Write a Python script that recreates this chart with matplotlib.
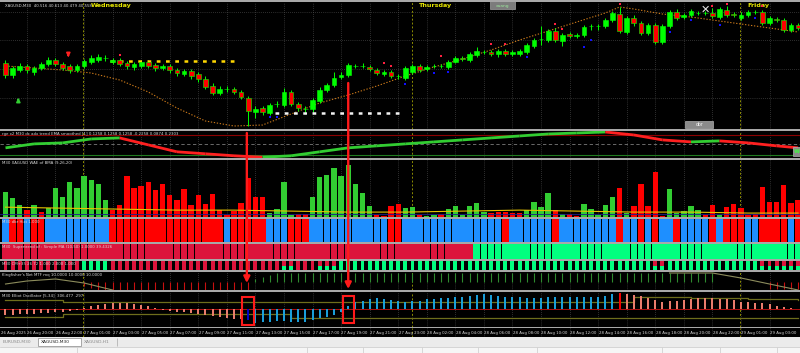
import matplotlib
matplotlib.use("Agg")
import matplotlib.pyplot as plt
from matplotlib import font_manager
from matplotlib.collections import LineCollection
from matplotlib.patches import Rectangle, ConnectionPatch
import numpy as np

# ---------------- data ----------------
# XAGUSD M30 candles (price)
opens = [38.85, 38.73, 38.78, 38.82, 38.76, 38.80, 38.84, 38.88, 38.84, 38.82,
         38.78, 38.82, 38.86, 38.88, 38.90, 38.86, 38.88, 38.85, 38.81, 38.82,
         38.86, 38.83, 38.80, 38.82, 38.78, 38.74, 38.77, 38.74, 38.69, 38.62,
         38.55, 38.59, 38.59, 38.56, 38.50, 38.36, 38.40, 38.35, 38.44, 38.43,
         38.56, 38.44, 38.39, 38.39, 38.47, 38.58, 38.63, 38.71, 38.73, 38.82,
         38.82, 38.81, 38.78, 38.74, 38.76, 38.72, 38.70, 38.76, 38.82, 38.79,
         38.82, 38.82, 38.81, 38.86, 38.90, 38.88, 38.93, 38.96, 38.96, 38.94,
         38.97, 38.94, 38.94, 38.96, 39.02, 39.09, 39.08, 39.17, 39.07, 39.14,
         39.12, 39.13, 39.22, 39.22, 39.22, 39.28, 39.34, 39.16, 39.30, 39.25,
         39.15, 39.23, 39.06, 39.22, 39.36, 39.31, 39.33, 39.35, 39.35, 39.35,
         39.31, 39.38, 39.34, 39.30, 39.33, 39.36, 39.36, 39.25, 39.29, 39.28,
         39.18, 39.23]
closes = [38.73, 38.80, 38.82, 38.78, 38.80, 38.84, 38.88, 38.84, 38.80, 38.78,
          38.82, 38.87, 38.90, 38.91, 38.90, 38.88, 38.84, 38.82, 38.84, 38.86,
          38.82, 38.80, 38.82, 38.78, 38.75, 38.77, 38.72, 38.69, 38.61, 38.55,
          38.59, 38.59, 38.56, 38.51, 38.37, 38.39, 38.36, 38.43, 38.44, 38.56,
          38.44, 38.40, 38.39, 38.48, 38.58, 38.63, 38.70, 38.73, 38.83, 38.82,
          38.82, 38.79, 38.75, 38.76, 38.72, 38.72, 38.80, 38.82, 38.78, 38.81,
          38.82, 38.82, 38.86, 38.90, 38.89, 38.94, 38.97, 38.96, 38.94, 38.97,
          38.94, 38.96, 38.97, 39.03, 39.08, 39.09, 39.17, 39.08, 39.13, 39.12,
          39.13, 39.21, 39.22, 39.22, 39.28, 39.35, 39.17, 39.30, 39.25, 39.15,
          39.23, 39.06, 39.22, 39.36, 39.30, 39.33, 39.37, 39.35, 39.35, 39.32,
          39.39, 39.33, 39.33, 39.33, 39.36, 39.36, 39.25, 39.30, 39.28, 39.18,
          39.23, 39.20]
highs = [38.88, 38.82, 38.85, 38.84, 38.82, 38.86, 38.91, 38.90, 38.86, 38.84,
         38.84, 38.89, 38.93, 38.94, 38.93, 38.90, 38.90, 38.87, 38.86, 38.88,
         38.88, 38.85, 38.84, 38.84, 38.80, 38.79, 38.79, 38.76, 38.72, 38.65,
         38.62, 38.62, 38.61, 38.58, 38.52, 38.42, 38.42, 38.45, 38.47, 38.60,
         38.58, 38.46, 38.42, 38.50, 38.61, 38.65, 38.76, 38.76, 38.85, 38.84,
         38.85, 38.83, 38.80, 38.78, 38.78, 38.74, 38.82, 38.84, 38.84, 38.83,
         38.84, 38.84, 38.88, 38.92, 38.92, 38.96, 39.01, 38.98, 38.98, 38.99,
         38.99, 38.98, 38.99, 39.05, 39.10, 39.22, 39.19, 39.20, 39.15, 39.16,
         39.15, 39.23, 39.24, 39.24, 39.30, 39.37, 39.41, 39.32, 39.33, 39.27,
         39.25, 39.25, 39.24, 39.38, 39.39, 39.35, 39.39, 39.37, 39.37, 39.40,
         39.41, 39.42, 39.36, 39.36, 39.38, 39.38, 39.38, 39.32, 39.31, 39.30,
         39.25, 39.25]
lows = [38.70, 38.70, 38.76, 38.75, 38.73, 38.78, 38.82, 38.82, 38.78, 38.75,
        38.76, 38.80, 38.84, 38.86, 38.87, 38.84, 38.82, 38.79, 38.78, 38.80,
        38.80, 38.77, 38.78, 38.75, 38.72, 38.72, 38.69, 38.66, 38.59, 38.53,
        38.53, 38.56, 38.54, 38.49, 38.22, 38.30, 38.33, 38.33, 38.41, 38.41,
        38.42, 38.37, 38.34, 38.36, 38.45, 38.56, 38.61, 38.69, 38.71, 38.80,
        38.80, 38.77, 38.73, 38.72, 38.70, 38.69, 38.68, 38.74, 38.76, 38.77,
        38.80, 38.80, 38.79, 38.85, 38.87, 38.86, 38.91, 38.94, 38.92, 38.91,
        38.92, 38.92, 38.92, 38.94, 39.00, 39.03, 39.06, 39.06, 39.02, 39.10,
        39.10, 39.11, 39.18, 39.18, 39.20, 39.26, 39.15, 39.14, 39.22, 39.13,
        39.13, 39.04, 39.04, 39.20, 39.28, 39.29, 39.31, 39.33, 39.33, 39.30,
        39.29, 39.31, 39.31, 39.28, 39.31, 39.34, 39.23, 39.23, 39.26, 39.16,
        39.16, 39.18]

# moving average (dotted) sampled at these bars
ma_bars = [0, 4, 8, 12, 16, 20, 24, 28, 32, 36, 40, 44, 48, 52, 56, 60, 64, 68,
           72, 76, 80, 84, 86, 88, 92, 96, 100, 104, 108, 111]
ma_vals = [38.82, 38.80, 38.78, 38.75, 38.68, 38.56, 38.40, 38.27, 38.22, 38.23,
           38.34, 38.45, 38.53, 38.62, 38.72, 38.81, 38.89, 38.98, 39.08, 39.17,
           39.26, 39.35, 39.41, 39.39, 39.34, 39.31, 39.27, 39.23, 39.19, 39.16]

red_dot_bars = [16, 53, 54, 61, 68, 70, 77, 78, 86, 99, 101, 106]
red_dot_vals = [38.93, 38.85, 38.82, 38.92, 39.04, 39.04, 39.24, 39.19, 39.44, 39.42, 39.44, 39.42]
blue_dot_bars = [37, 38, 56, 60, 62, 73, 81, 82, 93, 96, 100, 105]
blue_dot_vals = [38.31, 38.31, 38.64, 38.75, 38.76, 38.91, 39.01, 39.08, 39.16, 39.28, 39.23, 39.30]

yellow_level, yellow_span = 38.87, (14.6, 32.1)
white_level, white_span = 38.35, (37.7, 55.3)
price_grid = [39.36, 39.08, 38.79, 38.50]

# trend EMA smoothed sub-window
trend_bars = [0, 4, 8, 12, 16, 20, 24, 28, 32, 36, 40, 44, 48, 52, 56, 60, 64, 68,
              72, 76, 80, 84, 88, 92, 96, 100, 104, 108, 111]
trend_vals = [-0.04, 0.04, 0.06, 0.14, 0.16, 0.02, -0.12, -0.16, -0.20, -0.23,
              -0.20, -0.12, -0.04, 0.00, 0.04, 0.08, 0.12, 0.16, 0.20, 0.24,
              0.26, 0.28, 0.22, 0.12, 0.08, 0.10, 0.06, 0.00, -0.04]

# WAE histogram
wae = [25, 19, 12, 7, 12, 5, 9, 30, 20, 36, 30, 42, 38, 34, 17, 7, 12, 42, 30, 32,
       36, 27, 34, 22, 17, 29, 12, 22, 13, 23, 7, 2, 6, 14, 40, 20, 20, 4, 8, 36,
       2, 3, 3, 20, 41, 43, 50, 42, 53, 34, 24, 11, 2, 1, 11, 13, 9, 10, 2, 1,
       2, 3, 8, 11, 2, 11, 14, 5, 4, 5, 5, 4, 4, 7, 15, 10, 24, 7, 3, 3,
       1, 13, 8, 2, 12, 20, 30, 4, 11, 34, 11, 46, 1, 28, 4, 6, 11, 7, 2, 12,
       2, 10, 13, 9, 2, 3, 31, 15, 15, 33, 14, 17]
wae_dir = ("gggrgrggggggggg" "rrrrrrrrrrrrrrrrrrrrrr" "gggg" "rr" "ggggggggg" "rrrr"
           "gg" "r" "gg" "r" "gggggg" "rrrrr" "gggg" "r" "g" "rr" "ggggg" "r" "g"
           "rrrrr" "ggggg" "rr" "g" "rrrrrrrrrrr")
wae_line_bars = [0, 8, 16, 24, 32, 40, 48, 56, 64, 72, 80, 88, 96, 104, 111]
wae_line_vals = [10, 9, 8, 7, 7, 6, 5, 5, 6, 7, 6, 5, 5, 4, 4]

# dbr histogram (b = blue, r = red)
dbr_dir = ("b" "rr" "b" "rr" "bbbbbbbbb" "rrrrrrrrrrrrrrrr" "b" "rrrrr" "bbb" "rrr"
           "bbbbbbbbbbb" "rr" "bbbbbbbbbbbbbb" "r" "bbbbbb" "r" "bbbbbbbb" "r" "bb"
           "r" "b" "r" "bb" "r" "bbbb" "r" "b" "rrr" "bb" "rrrr" "b" "r")

# supertrend turns up at this bar
supertrend_up_from = 66

# CM bars (r = red, g = green, m = red over green)
cm_state = ("rrrrrrrrrrr" "gggg" "rrrrrrrrrrrrrrrrrrrrrrrr" "mm" "rrr" "mmm"
            "gggggggggggggggggggggggggggggggggggggggggggg" "mm" "ggggggggggggg" "mmmmmm")

# Kingfisher's net
kingfisher = [0, 0, 0, 0, 0, 0, 0, 0, 0, 0, 0, -4, -6, -8, -8, -8, -8, -8, -8, -8,
              -8, -8, -8, -8, -8, -8, -8, -8, -8, -8, -8, -8, -8, -8, -8, 3, 5, 7, 9, 9,
              9, 9, 9, 9, 9, 9, 9, 9, 9, 9, 9, 9, 9, 9, 9, 9, 9, 9, 9, 9,
              9, 9, 9, 9, 9, 9, 9, 9, 9, 9, 9, 9, 9, 9, 9, 9, 9, 9, 9, 9,
              9, 9, 9, 9, 9, 9, 9, 9, 9, 9, 9, 9, 9, 9, 9, 9, 9, 9, 9, 9,
              0, 0, 0, 0, 0, 0, 0, -7, -7, -7, -7, -7]
kf_left_bars, kf_left_vals = [0, 3, 7, 11, 15], [-2, 1, 3, -1, -8]
kf_right_bars, kf_right_vals = [93, 99, 103, 107, 111], [9, 9, 4, -2, -8]

# Elliot oscillator
elliot = [-6, -6, -5, -5, -5, -4, -4, -3, -3, -2, -1, 1, 3, 4, 5, 6, 6, 6, 5, 4,
          3, 1, -1, -2, -3, -3, -4, -5, -6, -7, -8, -9, -10, -10, -11, -14, -13, -13, -12, -12,
          -13, -13, -13, -11, -9, -8, -6, -3, 3, 7, 8, 10, 11, 10, 9, 8, 7, 8, 8, 10,
          10, 11, 11, 12, 12, 13, 14, 15, 14, 13, 12, 12, 12, 11, 11, 11, 12, 12, 12, 12,
          12, 12, 12, 12, 13, 15, 16, 15, 14, 13, 11, 9, 7, 8, 8, 9, 10, 11, 11, 11,
          10, 10, 9, 7, 7, 6, 6, 5, 3, 2, 1, 0]
eo_band_bars = [0, 8, 16, 24, 32, 40, 48, 56, 64, 72, 80, 88, 96, 104, 111]
eo_upper = [9, 7, 7, 7, 7, 7, 7, 7, 7, 7, 7, 12, 11, 10, 9]
eo_lower = [-8, -5, -5, -5, -5, -9, -9, -9, -9, -9, -9, -9, -9, -9, -9]

tick_bars = [3, 7, 11, 15, 19, 23, 27, 31, 35, 39, 43, 47, 51, 55, 59, 63, 67, 71,
             75, 79, 83, 87, 91, 95, 99, 103, 107]
tick_labels = ["26 Aug 20:00", "26 Aug 22:00", "27 Aug 01:00", "27 Aug 03:00",
               "27 Aug 05:00", "27 Aug 07:00", "27 Aug 09:00", "27 Aug 11:00",
               "27 Aug 13:00", "27 Aug 15:00", "27 Aug 17:00", "27 Aug 19:00",
               "27 Aug 21:00", "27 Aug 23:00", "28 Aug 02:00", "28 Aug 04:00",
               "28 Aug 06:00", "28 Aug 08:00", "28 Aug 10:00", "28 Aug 12:00",
               "28 Aug 14:00", "28 Aug 16:00", "28 Aug 18:00", "28 Aug 20:00",
               "28 Aug 22:00", "29 Aug 01:00", "29 Aug 03:00"]
day_seps = [10.9, 56.9, 102.9]
day_names = ["Wednesday", "Thursday", "Friday"]

n = len(opens)
assert len(closes) == n and len(highs) == n and len(lows) == n
assert len(wae) == n and len(wae_dir) == n and len(dbr_dir) == n
assert len(cm_state) == n and len(kingfisher) == n and len(elliot) == n
idx = np.arange(n)

# small terminal text: narrow face if installed
installed = {f.name for f in font_manager.fontManager.ttflist}
if "Liberation Sans Narrow" in installed:
    SMALL = dict(family=["Liberation Sans Narrow", "DejaVu Sans"], fontsize=3.7)
    TAB = dict(family=["Liberation Sans Narrow", "DejaVu Sans"], fontsize=4.2)
else:
    SMALL = dict(family=["DejaVu Sans"], fontsize=2.75)
    TAB = dict(family=["DejaVu Sans"], fontsize=3.2)

# ---------------- layout ----------------
W, H = 800, 353
X0, X1 = -0.77, 111.27
TXT = "#d8d8d8"
fig = plt.figure(figsize=(W / 100, H / 100), dpi=100, facecolor="#a8a8a8")


def panel(top, bottom, grid=True):
    ax = fig.add_axes([0, 1 - bottom / H, 1, (bottom - top) / H])
    ax.set_facecolor("black")
    for s in ax.spines.values():
        s.set_visible(False)
    ax.set_xticks([])
    ax.set_yticks([])
    ax.set_xlim(X0, X1)
    if grid:
        for b in tick_bars:
            ax.axvline(b, color="#5a5a5a", ls=(0, (1, 2)), lw=0.5, zorder=0)
        for d in day_seps:
            ax.axvline(d, color="#8c8c00", ls=(0, (2, 2)), lw=0.7, zorder=0.5)
    return ax


def label(ax, s, height_px):
    ax.text(0.002, 1 - 1.0 / height_px, s, transform=ax.transAxes,
            color=TXT, va="top", ha="left", zorder=30, **SMALL)


ax1 = panel(2, 129)
ax2 = panel(131, 158)
ax3 = panel(160, 217)
ax4 = panel(219, 242)
ax5 = panel(244, 259)
ax6 = panel(261, 270)
ax7 = panel(272, 290)
ax8 = panel(292, 327)
axt = panel(328, 337)

# ---------------- main chart ----------------
ax1.set_ylim(38.19, 39.46)
for p in price_grid:
    ax1.axhline(p, color="#5a5a5a", ls=(0, (1, 2)), lw=0.5, zorder=0)
o, c, h, l = map(np.array, (opens, closes, highs, lows))
ax1.vlines(idx, l, h, color="#00ff00", lw=0.7, zorder=2)
body_bot = np.minimum(o, c)
body_h = np.maximum(np.abs(c - o), 0.004)
body_col = ["#ff0000" if cc < oo else "#00ff00" for oo, cc in zip(o, c)]
ax1.bar(idx, body_h, bottom=body_bot, width=0.66, color=body_col,
        edgecolor="#00ff00", linewidth=0.4, zorder=3)
ax1.plot(ma_bars, ma_vals, color="#c8781a", ls=(0, (1.2, 1.5)), lw=0.8, zorder=1)
ax1.hlines(yellow_level, *yellow_span, color="#ffd700", ls=(0, (1.5, 2.2)), lw=1.8, zorder=2)
ax1.hlines(white_level, *white_span, color="#f2f2f2", ls=(0, (1.5, 2.2)), lw=1.8, zorder=2)
ax1.scatter(red_dot_bars, red_dot_vals, marker="s", s=2.5, color="#ff2040", lw=0, zorder=4)
ax1.scatter(blue_dot_bars, blue_dot_vals, marker="s", s=2.5, color="#1010ff", lw=0, zorder=4)
ax1.annotate("", xy=(1.8, 38.53), xytext=(1.8, 38.44),
             arrowprops=dict(arrowstyle="-|>", color="#32cd32", lw=1.3, mutation_scale=5))
ax1.annotate("", xy=(8.8, 38.88), xytext=(8.8, 38.96),
             arrowprops=dict(arrowstyle="-|>", color="#ff2020", lw=1.3, mutation_scale=5))
ax1.text(0.006, 0.985, "XAGUSD,M30  40.516 40.613 40.479 40.558", transform=ax1.transAxes,
         color=TXT, va="top", ha="left", **SMALL)
for d, name in zip(day_seps, day_names):
    ax1.text(d + 1.0, 0.99, name, transform=ax1.get_xaxis_transform(), fontsize=4.6,
             fontweight="bold", color="#e6e600", va="top", ha="left")
ax1.add_patch(Rectangle((67.9, 39.39), 3.5, 0.08, fc="#7c7c7c", ec="#a0a0a0", lw=0.5, zorder=5))
ax1.text(69.65, 39.425, "xuang", fontsize=3.2, color="#9be89b", ha="center", va="center", zorder=6)
ax1.add_patch(Rectangle((95.2, 38.195), 3.9, 0.075, fc="#8a8a8a", ec="#b0b0b0", lw=0.5, zorder=5))
ax1.text(97.15, 38.233, "obr", fontsize=3.4, color="#f4f4f4", ha="center", va="center", zorder=6)
ax1.text(98.0, 39.38, "\u2715", fontsize=8, color="#e8e8e8", ha="center", va="center", zorder=6)

# ---------------- trend EMA smoothed ----------------
ax2.set_ylim(-0.245, 0.30)
ax2.axhline(0.22, color="#8b0000", lw=0.8, zorder=1)
ax2.axhline(0.04, color="#7a7a7a", ls=(0, (4, 3)), lw=0.6, zorder=1)
ax2.axhline(-0.18, color="#1f7a1f", lw=0.8, zorder=1)
pts = np.column_stack([trend_bars, trend_vals])
segs = np.stack([pts[:-1], pts[1:]], axis=1)
seg_col = ["#32cd32" if b > a else "#ff2020" for a, b in zip(trend_vals[:-1], trend_vals[1:])]
ax2.add_collection(LineCollection(segs, colors=seg_col, linewidths=2.0, zorder=3))
ax2.add_patch(Rectangle((110.3, -0.2), 1.2, 0.18, fc="#8a8a8a", ec="#b0b0b0", lw=0.5, zorder=5))
ax2.text(110.9, -0.11, "W", fontsize=4, color="#3cff3c", fontweight="bold", ha="center",
         va="center", zorder=6)
label(ax2, "rge x2 M30 dc adx trend EMA smoothed [1] 0.1258 0.1258 0.1258 -0.2258 0.0874 0.2303", 27)

# ---------------- WAE ----------------
ax3.set_ylim(0, 58)
ax3.bar(idx, wae, width=0.75, color=["#32cd32" if d == "g" else "#ff0000" for d in wae_dir], zorder=2)
ax3.plot(wae_line_bars, wae_line_vals, color="#e6c200", lw=0.8, zorder=3)
ax3.axhline(3, color="#1c1c8a", lw=0.6, zorder=2.5)
label(ax3, "M30 XAGUSD WAE of BMA (9,26,20)", 57)

# ---------------- dbr histogram ----------------
ax4.set_ylim(0, 1)
ax4.bar(idx, np.ones(n), width=0.9, color=["#1e8fff" if d == "b" else "#ff0000" for d in dbr_dir], zorder=2)
label(ax4, "M30 dbr Hist 1.000", 23)

# ---------------- supertrend ----------------
ax5.set_ylim(0, 1)
ax5.bar(idx, np.ones(n), width=0.93,
        color=["#00ff7f" if i >= supertrend_up_from else "#dc143c" for i in idx], zorder=2)
label(ax5, "M30  Supertrend of : Simple MA (10,50) 1.0000 39.4326", 15)

# ---------------- CM bars ----------------
ax6.set_ylim(0, 1)
g_h = np.array([1.0 if s == "g" else (0.45 if s == "m" else 0.0) for s in cm_state])
r_h = np.array([1.0 if s == "r" else (0.55 if s == "m" else 0.0) for s in cm_state])
ax6.bar(idx, g_h, width=0.55, color="#00ff7f", zorder=2)
ax6.bar(idx, r_h, bottom=g_h, width=0.55, color="#dc143c", zorder=2)
label(ax6, "M30 CM+35 26 72 1.000 2.000 1.000", 9)

# ---------------- Kingfisher ----------------
ax7.set_ylim(-8, 10)
ax7.vlines(idx, 0, kingfisher, colors=["#2e8b2e" if v > 0 else "#c81010" for v in kingfisher],
           lw=0.8, zorder=2)
ax7.plot(kf_left_bars, kf_left_vals, color="#8c8c5c", lw=0.8, zorder=3)
ax7.plot(kf_right_bars, kf_right_vals, color="#8c8c5c", lw=0.8, zorder=3)
label(ax7, "Kingfisher's Net MTF mq 10.0000 10.0000 10.0000", 18)

# ---------------- Elliot oscillator ----------------
ax8.set_ylim(-18, 17)
ax8.step(eo_band_bars, eo_upper, where="post", color="#6e6e1c", lw=0.9, zorder=1)
ax8.step(eo_band_bars, eo_lower, where="post", color="#6e6e1c", lw=0.9, zorder=1)
ax8.axhline(0, color="#b01010", lw=0.7, zorder=1.5)
eo_col = []
for i, v in enumerate(elliot):
    if i == 34:
        eo_col.append("#0000cd")
    elif 35 <= i <= 85:
        eo_col.append("#1aa3e0")
    elif i == 86:
        eo_col.append("#ff0000")
    else:
        eo_col.append("#f08070")
ax8.vlines(idx, 0, elliot, colors=eo_col, lw=1.4, zorder=2)
label(ax8, "M30 Elliot Oscillator [5-34]  306.477 .297", 35)

# ---------------- time axis ----------------
axt.text(X0 + 0.1, 0.45, "26 Aug 2025", color=TXT, va="center", ha="left", **SMALL)
for b, lab in zip(tick_bars, tick_labels):
    axt.text(b + 0.05, 0.45, lab, color=TXT, va="center", ha="left", **SMALL)

# ---------------- drawn arrows and boxes ----------------
for (ax_a, xa, ya), (xb, yb) in [((ax2, 33.8, 0.26), (33.8, -1)), ((ax1, 48.0, 38.65), (48.0, -7))]:
    con = ConnectionPatch(xyA=(xa, ya), coordsA="data", axesA=ax_a,
                          xyB=(xb, yb), coordsB="data", axesB=ax7,
                          arrowstyle="-|>", color="#ff1a1a", lw=1.7, mutation_scale=9, zorder=20)
    fig.add_artist(con)
ax8.add_patch(Rectangle((33.1, -16), 1.7, 28, fill=False, ec="#ff1a1a", lw=1.5, zorder=10, clip_on=False))
ax8.add_patch(Rectangle((47.3, -14), 1.55, 27, fill=False, ec="#ff1a1a", lw=1.5, zorder=10, clip_on=False))

# ---------------- terminal tab bar ----------------
axb = fig.add_axes([0, 0, 1, 16 / H])
axb.set_xlim(0, W)
axb.set_ylim(H, H - 16)
axb.set_facecolor("#ebebeb")
for s in axb.spines.values():
    s.set_visible(False)
axb.set_xticks([])
axb.set_yticks([])
axb.add_patch(Rectangle((0, 346.5), W, 7, fc="#f6f6f6", ec="none"))
axb.axhline(346.5, color="#c8c8c8", lw=0.5)
axb.add_patch(Rectangle((38, 337.6), 43, 8.8, fc="white", ec="#9a9a9a", lw=0.6))
axb.text(3, 342, "EURUSD,M30", color="#8a8a8a", va="center", ha="left", **TAB)
axb.text(41, 342, "XAGUSD,M30", color="#202020", va="center", ha="left", **TAB)
axb.text(84, 342, "XAGUSD,H1", color="#8a8a8a", va="center", ha="left", **TAB)
axb.vlines([117], 338, 346, color="#b4b4b4", lw=0.6)
axb.vlines([77, 307, 363, 422, 478, 537, 662, 720, 777], 347, 353, color="#d2d2d2", lw=0.6)

fig.savefig("out.png", dpi=100, facecolor=fig.get_facecolor())
